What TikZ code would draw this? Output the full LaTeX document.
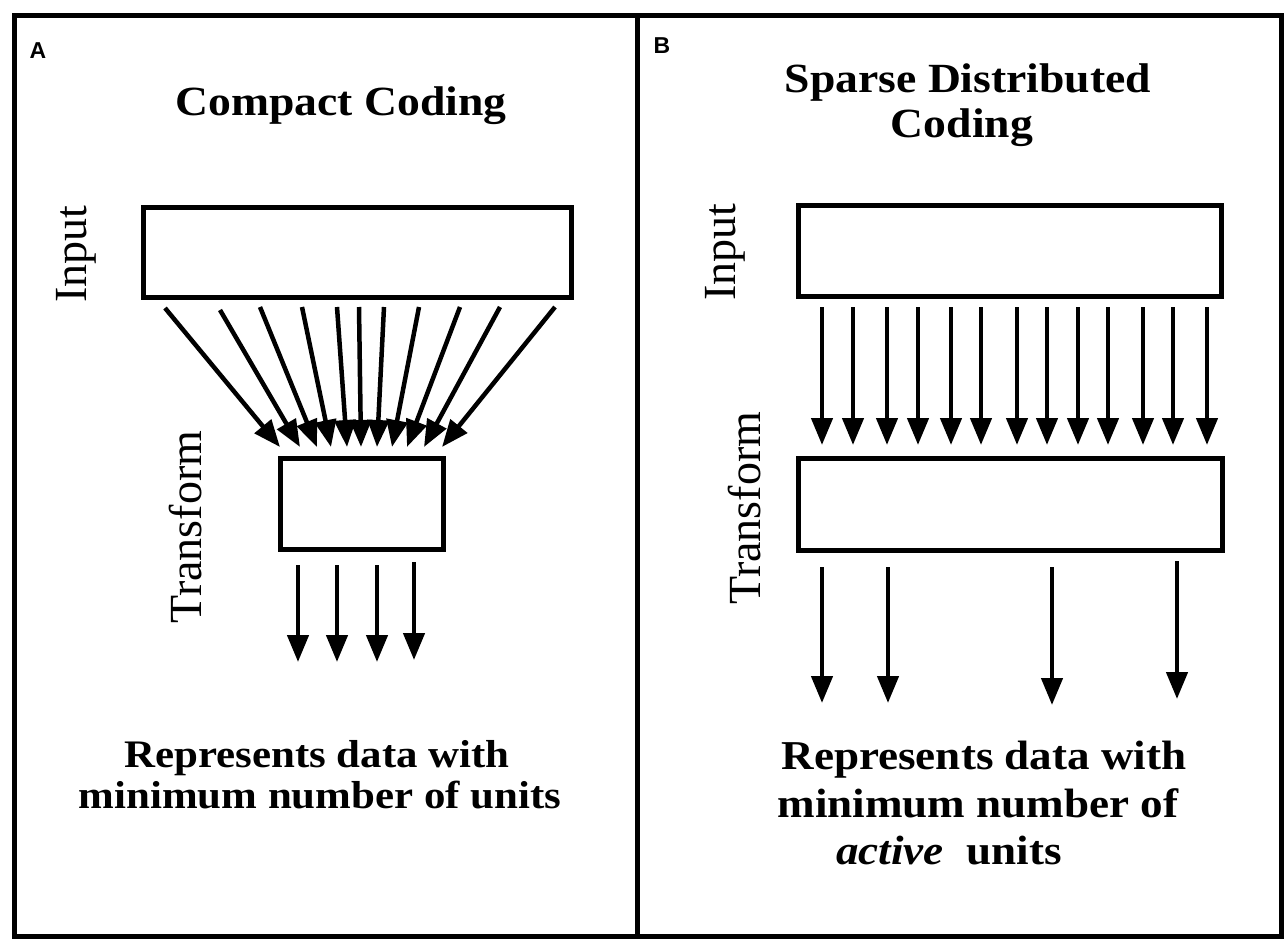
\documentclass[tikz,border=0pt]{standalone}
\usepackage{fontspec}
\setmainfont{Liberation Serif}
\newfontfamily\boldstretch[FakeStretch=1.1]{Liberation Serif}
\newfontfamily\panelfont{Liberation Sans}
\usetikzlibrary{arrows.meta}
\begin{document}
\begin{tikzpicture}[x=1pt,y=-1pt,
  panel/.style={draw, line width=5pt, inner sep=0pt},
  box/.style={draw, line width=5pt, inner sep=0pt},
  arr/.style={line width=4.5pt, -{Triangle[width=21pt,length=27pt]}},
  ttl/.style={font=\boldstretch\bfseries\fontsize{41.5}{45}\selectfont, anchor=base, inner sep=0pt},
  capA/.style={font=\boldstretch\bfseries\fontsize{39}{40}\selectfont, anchor=base, inner sep=0pt},
  capB/.style={font=\boldstretch\bfseries\fontsize{41}{45}\selectfont, anchor=base, inner sep=0pt},
  side/.style={font=\fontsize{46}{48}\selectfont, rotate=90, inner sep=0pt},
  tag/.style={font=\panelfont\bfseries\fontsize{23}{25}\selectfont, inner sep=0pt}
]
\useasboundingbox (0,0) rectangle (1285,940);
\fill[white] (0,0) rectangle (1285,940);

% panels
\node[panel, minimum width=623pt, minimum height=921pt] (pA) at (325.5,475.5) {};
\node[panel, minimum width=644pt, minimum height=921pt] (pB) at (959,475.5) {};

\node[tag] (tA) at (38,51) {A};
\node[tag] (tB) at (662,46) {B};

% titles
\node[ttl] (titleA) at (341,115) {Compact Coding};
\node[ttl] (titleB1) at (968,92) {Sparse Distributed};
\node[ttl] (titleB2) at (962,137) {Coding};

% boxes
\node[box, minimum width=428pt, minimum height=90pt] (inA) at (357,252) {};
\node[box, minimum width=163pt, minimum height=91pt] (trA) at (361.5,503.5) {};
\node[box, minimum width=423pt, minimum height=91pt] (inB) at (1009.5,250.5) {};
\node[box, minimum width=424pt, minimum height=92pt] (trB) at (1010,504) {};

% side labels
\node[side] (lInA) at (76,254) {Input};
\node[side] (lTrA) at (186,527) {Transform};
\node[side] (lInB) at (725,252) {Input};
\node[side] (lTrB) at (745,508) {Transform};

% converging arrows (A)
\foreach \i/\sx/\sy/\ex in {1/165/308/280, 2/220/310/300, 3/260/307/317, 4/302/307/331, 5/337/307/347, 6/359/307/361, 7/384/307/377, 8/419/307/392, 9/460/307/407, 10/500/307/424, 11/555/307/442}{
  \coordinate (cs\i) at (\sx,\sy);
  \coordinate (ce\i) at (\ex,447);
  \draw[arr] (cs\i) -- (ce\i);
}
% output arrows (A)
\foreach \i/\x/\sy/\ey in {1/298/565/662, 2/337/565/662, 3/377/565/662, 4/414/562/660}{
  \coordinate (os\i) at (\x,\sy);
  \coordinate (oe\i) at (\x,\ey);
  \draw[arr] (os\i) -- (oe\i);
}
% parallel arrows (B)
\foreach \i/\x in {1/822, 2/853, 3/887, 4/918, 5/951, 6/981, 7/1017, 8/1047, 9/1078, 10/1108, 11/1143, 12/1173, 13/1207}{
  \coordinate (ps\i) at (\x,307);
  \coordinate (pe\i) at (\x,445);
  \draw[arr] (ps\i) -- (pe\i);
}
% sparse output arrows (B)
\foreach \i/\x/\sy/\ey in {1/822/567/703, 2/888/567/703, 3/1052/567/705, 4/1177/561/699}{
  \coordinate (ss\i) at (\x,\sy);
  \coordinate (se\i) at (\x,\ey);
  \draw[arr] (ss\i) -- (se\i);
}

% captions
\node[capA] (capA1) at (317,767) {Represents data with};
\node[capA] (capA2) at (320,808) {minimum number of units};
\node[capB] (capB1) at (984,769) {Represents data with};
\node[capB] (capB2) at (978,817) {minimum number of};
\node[capB] (capB3) at (949,864) {\textit{active}\ \ units};
\end{tikzpicture}
\end{document}
